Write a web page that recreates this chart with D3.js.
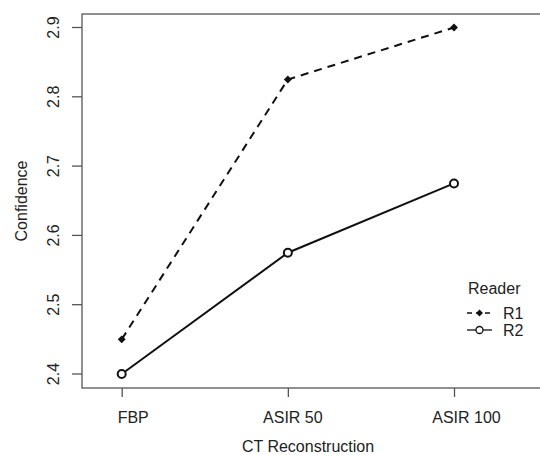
<!DOCTYPE html>
<html>
<head>
<meta charset="utf-8">
<script src="https://cdn.jsdelivr.net/npm/d3@7"></script>
<style>
  body { margin: 0; background: #fff; }
  text { font-family: "Liberation Sans", Arial, sans-serif; }
</style>
</head>
<body>
<div id="chart"></div>
<script>
let categories = ["FBP", "ASIR 50", "ASIR 100"];
let r1 = [2.45, 2.825, 2.9];
let r2 = [2.4, 2.575, 2.675];
let yTicks = [2.4, 2.5, 2.6, 2.7, 2.8, 2.9];

let w = 540;
let h = 455;
let fs = "16px";

let svg = d3.select("#chart")
    .append("svg")
    .attr("width", w)
    .attr("height", h);

// plot box edges
let boxL = 82, boxR = 545, boxT = 14, boxB = 388;

let x = d3.scalePoint()
    .domain(categories)
    .range([121.7, 454]);

let y = d3.scaleLinear()
    .domain([2.4, 2.9])
    .range([374, 27.5]);

svg.append("rect")
    .attr("x", boxL)
    .attr("y", boxT)
    .attr("width", boxR - boxL)
    .attr("height", boxB - boxT)
    .attr("fill", "none")
    .attr("stroke", "#555")
    .attr("stroke-width", 1.3);

// y axis
let yAxis = svg.append("g")
    .attr("transform", "translate(" + boxL + ",0)")
    .call(d3.axisLeft(y).tickValues(yTicks).tickSize(10).tickFormat(d3.format(".1f")));
yAxis.select(".domain").remove();
yAxis.selectAll("line").attr("stroke", "#555").attr("stroke-width", 1.3);
yAxis.selectAll(".tick").attr("transform", null);
yAxis.selectAll(".tick line")
    .attr("y1", function (d) { return y(d); })
    .attr("y2", function (d) { return y(d); });
yAxis.selectAll("text")
    .attr("transform", function (d) { return "translate(" + (53.5 - boxL) + "," + y(d) + ") rotate(-90)"; })
    .attr("x", 0)
    .attr("y", 0)
    .attr("dy", "0.35em")
    .attr("text-anchor", "middle")
    .attr("font-size", fs)
    .attr("fill", "#222");

// x axis (labels sit a little right of their ticks in the original)
let labelShift = [11, 4.5, 12];
let xAxis = svg.append("g")
    .attr("transform", "translate(0," + boxB + ")")
    .call(d3.axisBottom(x).tickSize(9));
xAxis.select(".domain").remove();
xAxis.selectAll("line").attr("stroke", "#555").attr("stroke-width", 1.3);
xAxis.selectAll("text")
    .attr("y", 29)
    .attr("x", function (d, i) { return labelShift[i]; })
    .attr("dy", "0.35em")
    .attr("font-size", fs)
    .attr("fill", "#222");

svg.append("text")
    .text("CT Reconstruction")
    .attr("x", 308)
    .attr("y", 446)
    .attr("dy", "0.35em")
    .attr("text-anchor", "middle")
    .attr("font-size", fs)
    .attr("fill", "#222");

svg.append("text")
    .text("Confidence")
    .attr("transform", "translate(21,201) rotate(-90)")
    .attr("dy", "0.35em")
    .attr("text-anchor", "middle")
    .attr("font-size", fs)
    .attr("fill", "#222");

let line = d3.line()
    .x(function (d, i) { return x(categories[i]); })
    .y(function (d) { return y(d); });

svg.append("path")
    .datum(r1)
    .attr("d", line)
    .attr("fill", "none")
    .attr("stroke", "#111")
    .attr("stroke-width", 2)
    .attr("stroke-dasharray", "8,6");

svg.append("path")
    .datum(r2)
    .attr("d", line)
    .attr("fill", "none")
    .attr("stroke", "#111")
    .attr("stroke-width", 2);

let diamond = d3.symbol().type(d3.symbolDiamond2).size(40);

svg.selectAll(".m1")
    .data(r1)
    .enter()
    .append("path")
    .attr("class", "m1")
    .attr("d", diamond)
    .attr("transform", function (d, i) { return "translate(" + x(categories[i]) + "," + y(d) + ")"; })
    .attr("fill", "#111");

svg.selectAll(".m2")
    .data(r2)
    .enter()
    .append("circle")
    .attr("class", "m2")
    .attr("cx", function (d, i) { return x(categories[i]); })
    .attr("cy", function (d) { return y(d); })
    .attr("r", 4)
    .attr("fill", "#fff")
    .attr("stroke", "#111")
    .attr("stroke-width", 2);

// legend
let lg = svg.append("g");
lg.append("text")
    .text("Reader")
    .attr("x", 468)
    .attr("y", 288.5)
    .attr("dy", "0.35em")
    .attr("font-size", fs)
    .attr("fill", "#222");

let series = [
    { name: "R1", dash: "5,4", y: 313 },
    { name: "R2", dash: null, y: 330 }
];

series.forEach(function (s) {
    lg.append("line")
        .attr("x1", 467)
        .attr("x2", 492)
        .attr("y1", s.y)
        .attr("y2", s.y)
        .attr("stroke", "#111")
        .attr("stroke-width", 1.3)
        .attr("stroke-dasharray", s.dash);
    if (s.name === "R1") {
        lg.append("path")
            .attr("d", d3.symbol().type(d3.symbolDiamond2).size(30))
            .attr("transform", "translate(479.5," + s.y + ")")
            .attr("fill", "#111");
    } else {
        lg.append("circle")
            .attr("cx", 479.5)
            .attr("cy", s.y)
            .attr("r", 3.5)
            .attr("fill", "#fff")
            .attr("stroke", "#111")
            .attr("stroke-width", 1.3);
    }
    lg.append("text")
        .text(s.name)
        .attr("x", 503)
        .attr("y", s.y)
        .attr("dy", "0.35em")
        .attr("font-size", fs)
        .attr("fill", "#222");
});
</script>
</body>
</html>
